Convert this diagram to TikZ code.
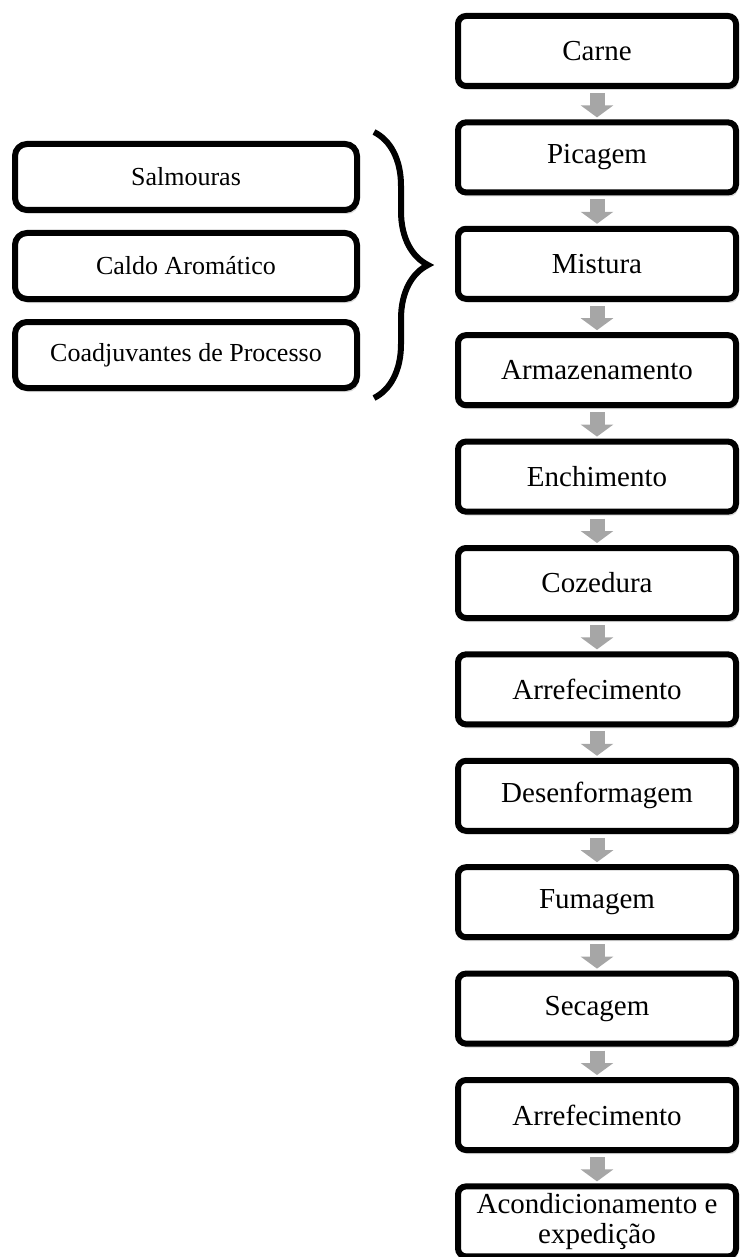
\documentclass[tikz,border=0pt]{standalone}
\usepackage{fontspec}
\setmainfont{Liberation Serif}
\usetikzlibrary{positioning,arrows.meta,shadows,decorations.pathreplacing}
\definecolor{setacinza}{HTML}{A6A6A6}

\begin{document}
\begin{tikzpicture}[x=0.5pt,y=-0.5pt,
	etapa/.style={draw, line width=3pt, rectangle, rounded corners=4pt, fill=white, minimum width=139pt, minimum height=35pt, font=\fontsize{14.5}{15}\selectfont, drop shadow={opacity=0.3, shadow xshift=1pt, shadow yshift=-2pt}},
	ingrediente/.style={draw, line width=3pt, rectangle, rounded corners=6pt, fill=white, minimum width=171pt, minimum height=33pt, font=\fontsize{13}{14}\selectfont, drop shadow={opacity=0.3, shadow xshift=1pt, shadow yshift=-2pt}},
	seta/.style={draw=setacinza, line width=7.5pt, -{Triangle[width=16pt,length=6pt]}, shorten <=2pt, shorten >=1pt}]

	\useasboundingbox (0,0) rectangle (740,1257);

	% Etapas do processo
	\node [etapa] (carne) at (597,51) {Carne};
	\node [etapa, below=15.2pt of carne] (picagem) {Picagem};
	\node [etapa, below=15.2pt of picagem] (mistura) {Mistura};
	\node [etapa, below=15.2pt of mistura] (armazenamento) {Armazenamento};
	\node [etapa, below=15.2pt of armazenamento] (enchimento) {Enchimento};
	\node [etapa, below=15.2pt of enchimento] (cozedura) {Cozedura};
	\node [etapa, below=15.2pt of cozedura] (arrefecimento1) {Arrefecimento};
	\node [etapa, below=15.2pt of arrefecimento1] (desenformagem) {Desenformagem};
	\node [etapa, below=15.2pt of desenformagem] (fumagem) {Fumagem};
	\node [etapa, below=15.2pt of fumagem] (secagem) {Secagem};
	\node [etapa, below=15.2pt of secagem] (arrefecimento2) {Arrefecimento};
	\node [etapa, below=15.2pt of arrefecimento2, align=center, inner sep=2pt] (acondicionamento) {Acondicionamento e\\expedição};

	% Setas
	\draw [seta] (carne.south) -- (picagem.north);
	\draw [seta] (picagem.south) -- (mistura.north);
	\draw [seta] (mistura.south) -- (armazenamento.north);
	\draw [seta] (armazenamento.south) -- (enchimento.north);
	\draw [seta] (enchimento.south) -- (cozedura.north);
	\draw [seta] (cozedura.south) -- (arrefecimento1.north);
	\draw [seta] (arrefecimento1.south) -- (desenformagem.north);
	\draw [seta] (desenformagem.south) -- (fumagem.north);
	\draw [seta] (fumagem.south) -- (secagem.north);
	\draw [seta] (secagem.south) -- (arrefecimento2.north);
	\draw [seta] (arrefecimento2.south) -- (acondicionamento.north);

	% Ingredientes
	\node [ingrediente] (salmouras) at (186,177) {Salmouras};
	\node [ingrediente] (caldo) at (186,266) {Caldo Aromático};
	\node [ingrediente] (coadjuvantes) at (186,355) {Coadjuvantes de Processo};

	% Chaveta
	\coordinate (chavetopo) at (374,132);
	\coordinate (chavebase) at (374,398);
	\draw [decorate, decoration={brace, amplitude=27pt}, line width=3pt] (chavetopo) -- (chavebase);

\end{tikzpicture}
\end{document}
